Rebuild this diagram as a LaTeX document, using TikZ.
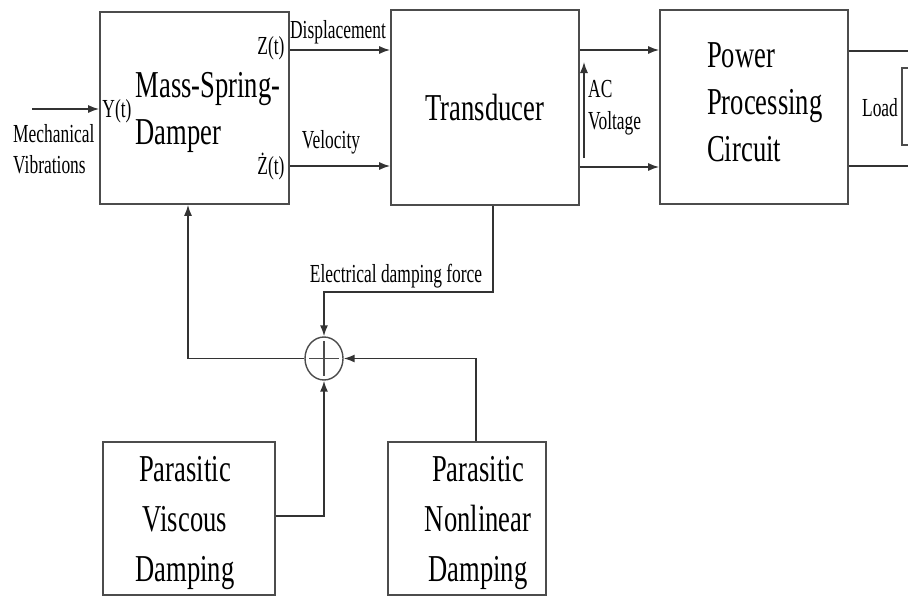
\documentclass[tikz,border=0pt]{standalone}
\usepackage{fontspec}
\setmainfont[FakeStretch=0.67]{Liberation Serif}
\newfontfamily\bigf[FakeStretch=0.7]{Liberation Serif}
\usetikzlibrary{arrows.meta,calc,shapes.geometric}
\begin{document}
\begin{tikzpicture}[x=1pt,y=-1pt,
  wire/.style={draw=black!80, line width=1.6pt},
  arr/.style={wire,-{Latex[length=11pt,width=8pt]}},
  blk/.style={draw=black!70, line width=1.6pt, rectangle, inner sep=0pt},
  big/.style={font=\bigf\fontsize{38}{48}\selectfont, align=center, inner sep=0pt},
  lbl/.style={font=\fontsize{26}{31}\selectfont, inner sep=0pt},
  sumnode/.style={draw=black!70, line width=1.4pt, ellipse, minimum width=38pt, minimum height=43pt, inner sep=0pt,
    path picture={\draw[black!70, line width=1.2pt]
      ($(path picture bounding box.west)+(4pt,0)$) -- ($(path picture bounding box.east)+(-4pt,0)$)
      ($(path picture bounding box.north)+(0,-4pt)$) -- ($(path picture bounding box.south)+(0,4pt)$);}},
]
\fill[white] (0,0) rectangle (908,597);
\clip (0,0) rectangle (908,597);

% blocks
\node[blk, minimum width=189pt, minimum height=192pt] (msd) at (194.5,108) {};
\node[big, align=left, font=\bigf\fontsize{38}{47}\selectfont] (msdtext) at (208,112.5) {Mass-Spring-\\Damper};
\node[blk, minimum width=188pt, minimum height=195pt, big] (trans) at (485,107.5) {Transducer};
\node[blk, minimum width=188pt, minimum height=194pt] (power) at (754,107) {};
\node[big, align=left, anchor=west, font=\bigf\fontsize{38}{47}\selectfont] (powertext) at (707,102) {Power\\Processing\\Circuit};
\node[blk, minimum width=172pt, minimum height=153pt] (visc) at (189,518.5) {};
\node[big, font=\bigf\fontsize{38}{50}\selectfont] (visctext) at (185,523) {Parasitic\\Viscous\\Damping};
\node[blk, minimum width=158pt, minimum height=153pt] (nl) at (467,518.5) {};
\node[big, font=\bigf\fontsize{38}{50}\selectfont] (nltext) at (478,523) {Parasitic\\Nonlinear\\Damping};
\node[blk, minimum width=20pt, minimum height=77pt] (load) at (912,106.5) {};
\node[sumnode] (sum) at (324,358.5) {};

% labels
\node[lbl, align=left, anchor=west] (mech) at (13,149.5) {Mechanical\\Vibrations};
\node[lbl] (ylab) at (117,111) {Y(t)};
\node[lbl] (zlab) at (271,48) {Z(t)};
\node[lbl] (zdlab) at (271,167) {Ż(t)};
\node[lbl] (displab) at (338,32.5) {Displacement};
\node[lbl] (vellab) at (331,142.5) {Velocity};
\node[lbl, align=left, anchor=west, font=\fontsize{26}{32}\selectfont] (aclab) at (588,108) {AC\\Voltage};
\node[lbl] (edflab) at (396,276.5) {Electrical damping force};
\node[lbl] (loadlab) at (880,107.5) {Load};

% connectors
\coordinate (inp) at (32,109);
\draw[arr] (inp) -- (msd.west |- inp);
\draw[arr] (msd.east |- 0,50) -- (trans.west |- 0,50);
\draw[arr] (msd.east |- 0,166) -- (trans.west |- 0,166);
\draw[arr] (trans.east |- 0,50) -- (power.west |- 0,50);
\draw[arr] (trans.east |- 0,167) -- (power.west |- 0,167);
\draw[wire] (power.east |- 0,51) -- (load.north |- 0,51);
\draw[wire] (power.east |- 0,166) -- (load.north |- 0,166);
\coordinate (acb) at (584,158);
\coordinate (act) at (584,62);
\draw[arr, line width=1.3pt] (acb) -- (act);
\draw[arr] (trans.south -| 493,0) -- (493,292) -| (sum.north);
\draw[arr] (sum.west) -| (msd.south -| 188,0);
\draw[arr] (nl.north -| 476,0) |- (sum.east);
\draw[arr] (visc.east |- 0,516) -| (sum.south);
\end{tikzpicture}
\end{document}
